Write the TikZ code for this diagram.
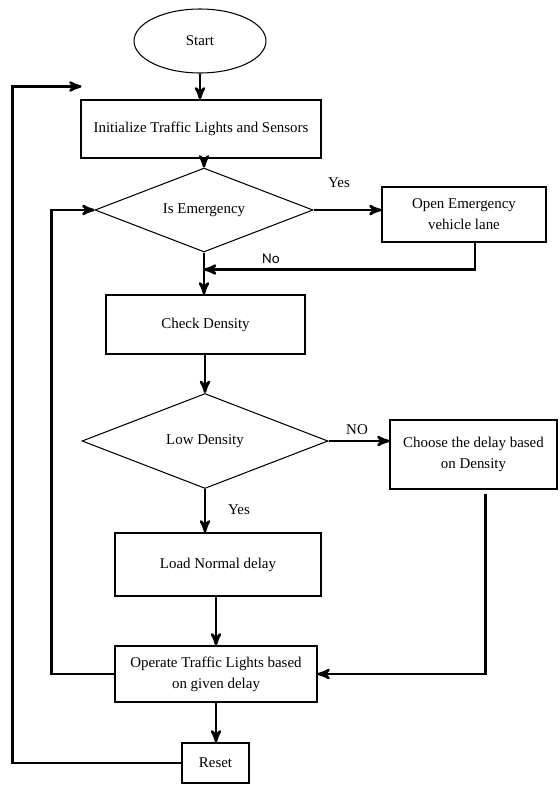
\documentclass[tikz,border=0pt]{standalone}
\usepackage{fontspec}
\setmainfont{Liberation Serif}
\newfontfamily\LabelSans{Carlito}
\usetikzlibrary{calc}
\usetikzlibrary{arrows,shapes}

\tikzset{
  box/.style={draw, rectangle, line width=.6pt, inner sep=0pt, align=center,
    font=\fontsize{8.5}{12}\selectfont},
  decision/.style={draw, diamond, line width=.6pt, inner sep=0pt, aspect=2.5,
    font=\fontsize{8.5}{12}\selectfont},
  flow/.style={->, line width=1.4pt, black},
  tag/.style={font=\fontsize{8.5}{10}\selectfont}
}

\begin{document}
\begin{tikzpicture}[x=0.02cm,y=-0.02cm,>=stealth']

      \useasboundingbox (0,0) rectangle (559,785);

      \node[draw, ellipse, line width=.6pt, minimum width=2.64cm, minimum height=1.28cm,
        font=\fontsize{8.5}{12}\selectfont] (start) at (200,41) {Start};
      \node[box, minimum width=4.8cm, minimum height=1.16cm] (init) at (201,129)
        {Initialize Traffic Lights and Sensors};
      \node[decision, minimum width=4.36cm, minimum height=1.68cm] (emerg) at (204,210) {Is Emergency};
      \node[box, minimum width=3.28cm, minimum height=1.1cm] (open) at (464,214.5)
        {Open Emergency\\vehicle lane};
      \node[box, minimum width=3.98cm, minimum height=1.18cm] (check) at (205.5,324.5) {Check Density};
      \node[decision, minimum width=4.92cm, minimum height=1.9cm] (low) at (205,441) {Low Density};
      \node[box, minimum width=3.34cm, minimum height=1.38cm] (choose) at (473.5,454.5)
        {Choose the delay based\\on Density};
      \node[box, minimum width=4.12cm, minimum height=1.26cm] (load) at (218,564.5) {Load Normal delay};
      \node[box, minimum width=4.04cm, minimum height=1.12cm] (operate) at (216,674)
        {Operate Traffic Lights based\\on given delay};
      \node[box, minimum width=1.34cm, minimum height=0.8cm] (reset) at (215.5,763) {Reset};

      \coordinate (join) at ($(emerg.south)+(0,17)$); % where the lane line meets the main flow
      \coordinate (initin) at ($(init.north west)+(1,-13)$);

      \draw [style=flow] (start.south) -- (start.south |- init.north);
      \draw [style=flow] (emerg.north |- init.south) -- (emerg.north);
      \draw [style=flow] (emerg.east) -- (emerg.east -| open.west);
      \draw [style=flow] ($(open.south)+(11,0)$) |- (join);
      \draw [style=flow] (emerg.south) -- (emerg.south |- check.north);
      \draw [style=flow] (low.north |- check.south) -- (low.north);
      \draw [style=flow] (low.east) -- (low.east -| choose.west);
      \draw [style=flow] (low.south) -- (low.south |- load.north);
      \draw [style=flow] (operate.north |- load.south) -- (operate.north);
      \draw [style=flow] ($(choose.south)+(12,4)$) |- (operate.east);
      \draw [style=flow] (operate.west) -- ++(-63,0) |- (emerg.west);
      \draw [style=flow] (operate.south) -- (operate.south |- reset.north);
      \draw [style=flow] (reset.west) -- ++(-169,0) |- (initin);

      \node[tag] (yesa) at (339,183) {Yes};
      \node[font=\LabelSans\fontsize{8.5}{10}\selectfont] (noa) at (271,259) {No};
      \node[tag] (nob) at (357,430) {NO};
      \node[tag] (yesb) at (239,510) {Yes};
    \end{tikzpicture}
\end{document}
